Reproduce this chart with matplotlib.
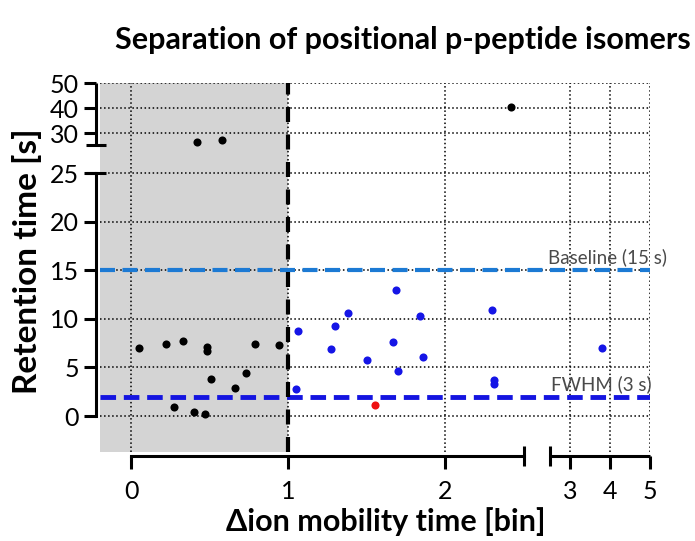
import numpy as np
import matplotlib
matplotlib.use("Agg")
import matplotlib.pyplot as plt

plt.rcParams['font.family'] = ['Lato', 'DejaVu Sans']

# data
black_x = [0.05, 0.22, 0.33, 0.48, 0.48, 0.51, 0.27, 0.40, 0.47, 0.66, 0.73, 0.79, 0.94, 0.42, 0.58, 2.42]
black_y = [7.0, 7.4, 7.7, 7.1, 6.7, 3.8, 0.9, 0.4, 0.2, 2.9, 4.4, 7.4, 7.3, 26.5, 27.2, 40.3]
blue_x = [1.06, 1.05, 1.30, 1.38, 1.27, 1.50, 1.69, 1.67, 1.70, 1.84, 1.86, 2.30, 2.31, 2.31, 3.79]
blue_y = [8.7, 2.8, 9.3, 10.6, 6.9, 5.8, 13.0, 7.6, 4.6, 10.3, 6.1, 10.9, 3.7, 3.3, 7.0]
red_x = [1.55]
red_y = [1.1]

baseline = 15
fwhm = 2
cutoff = 1

xticks = [0, 1, 2, 3, 4, 5]
yticks = [0, 5, 10, 15, 20, 25, 30, 40, 50]

# broken axes as piecewise linear scales
xk_data = [-1000, 2.5, 2.5001, 1000]
xk_disp = [-1000, 2.5, 2.5 + 0.171, 2.5 + 0.171 + (1000 - 2.5001) * 0.254]
yk_data = [-1000, 25, 25.2, 1000]
yk_disp = [-1000, 25, 27.88, 27.88 + (1000 - 25.2) * 0.2572]


def xf(v):
    return np.interp(v, xk_data, xk_disp)


def xi(v):
    return np.interp(v, xk_disp, xk_data)


def yf(v):
    return np.interp(v, yk_data, yk_disp)


def yi(v):
    return np.interp(v, yk_disp, yk_data)


fig = plt.figure(figsize=(6.95, 5.41), dpi=100)
ax = fig.add_axes([100 / 695, 1 - 452 / 541, 550 / 695, 369 / 541])
ax.set_xscale('function', functions=(xf, xi))
ax.set_yscale('function', functions=(yf, yi))
ax.set_xlim(-0.2, 5)
ax.set_ylim(-3.7, 50)

ax.axvspan(-0.2, cutoff, color='#d4d4d4', lw=0, zorder=0)
ax.grid(True, ls=':', color='black', lw=1.1, zorder=1)

ax.axhline(baseline, color='#1c7ad4', lw=3, dashes=(3.6, 1.8), zorder=2)
ax.axhline(fwhm, color='#1414e0', lw=3.5, dashes=(3.2, 1.6), zorder=2)
ax.axvline(cutoff, color='black', lw=3, dashes=(3.6, 3.0), zorder=3)

ax.scatter(black_x, black_y, s=34, color='black', zorder=4, lw=0)
ax.scatter(blue_x, blue_y, s=34, color='#1515e6', zorder=4, lw=0)
ax.scatter(red_x, red_y, s=34, color='#ee1111', zorder=4, lw=0)

ax.text(5.42, baseline + 1.3, 'Baseline (15 s)', ha='right', va='center',
        fontsize=13.5, color='#4a4a4a', zorder=5, clip_on=False)
ax.text(5.05, fwhm + 1.3, 'FWHM (3 s)', ha='right', va='center',
        fontsize=13.5, color='#4a4a4a', zorder=5, clip_on=False)

for s in ['top', 'right']:
    ax.spines[s].set_visible(False)
ax.spines['left'].set_position(('outward', 3))
ax.spines['bottom'].set_position(('outward', 3))
ax.spines['left'].set_bounds(0, 25)
ax.spines['bottom'].set_bounds(0, 2.5)
ax.spines['left'].set_linewidth(2.2)
ax.spines['bottom'].set_linewidth(2.2)

ltr = ax.spines['left'].get_spine_transform()
btr = ax.spines['bottom'].get_spine_transform()
ax.plot([0, 0], [25.2, 50], color='black', lw=2.2, transform=ltr, clip_on=False,
        solid_capstyle='butt')
ax.plot([0, 0], [25, 25.2], ls='none', marker='_', ms=14, mew=2.2, color='black',
        transform=ltr, clip_on=False)
ax.plot([2.5001, 5], [0, 0], color='black', lw=2.2, transform=btr, clip_on=False,
        solid_capstyle='butt')
ax.plot([2.5, 2.5001], [0, 0], ls='none', marker='|', ms=14, mew=2.2, color='black',
        transform=btr, clip_on=False)

ax.set_xticks(xticks)
ax.set_xticklabels([str(t) for t in xticks])
ax.set_yticks(yticks)
ax.set_yticklabels([str(t) for t in yticks])
ax.tick_params(axis='both', direction='out', length=9, width=2.2, labelsize=18, pad=3)
ax.tick_params(axis='x', pad=8)

fig.text(403 / 695, 1 - 40 / 541, 'Separation of positional p-peptide isomers',
         ha='center', va='center', fontsize=22, fontweight='bold')
fig.text(386 / 695, 1 - 522 / 541, '\u0394ion mobility time [bin]',
         ha='center', va='center', fontsize=22, fontweight='bold')
fig.text(27 / 695, 1 - 261 / 541, 'Retention time [s]', rotation=90,
         ha='center', va='center', fontsize=24, fontweight='bold')

fig.savefig('out.png', dpi=100)
